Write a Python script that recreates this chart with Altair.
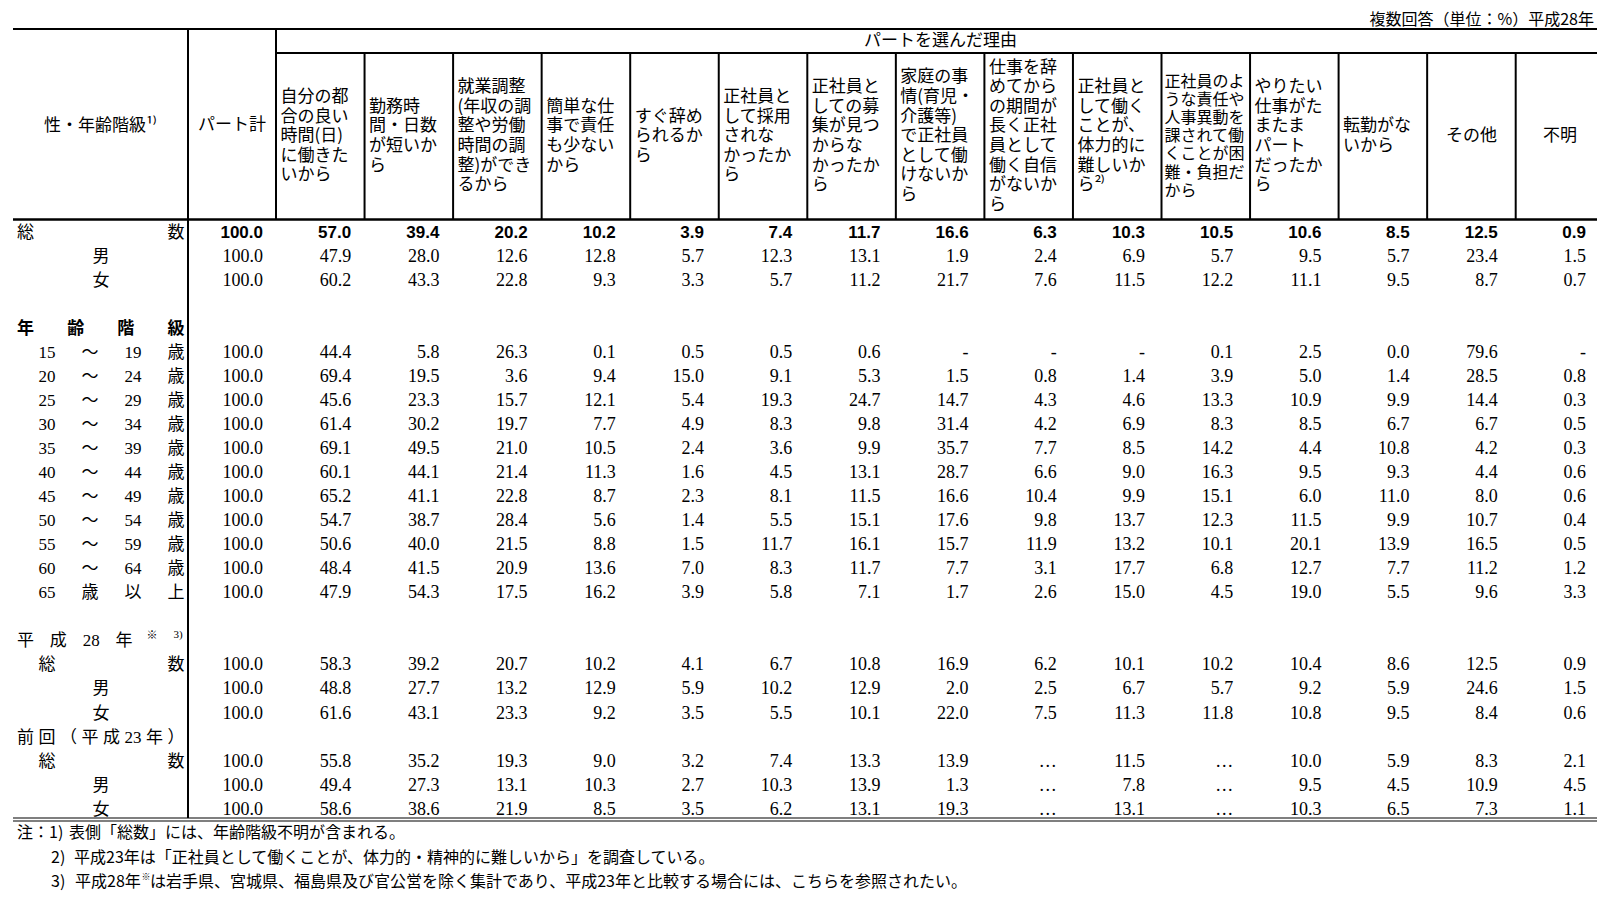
import altair as alt
import pandas as pd

# ---------------- data ----------------
NOTE_TOP = "複数回答（単位：%）平成28年"
GROUP_HEADER = "パートを選んだ理由"
STUB_HEADER = "性・年齢階級¹⁾"
TOTAL_HEADER = "パート計"
REASONS = [
    "自分の都\n合の良い\n時間(日)\nに働きた\nいから",
    "勤務時\n間・日数\nが短いか\nら",
    "就業調整\n(年収の調\n整や労働\n時間の調\n整)ができ\nるから",
    "簡単な仕\n事で責任\nも少ない\nから",
    "すぐ辞め\nられるか\nら",
    "正社員と\nして採用\nされな\nかったか\nら",
    "正社員と\nしての募\n集が見つ\nからな\nかったか\nら",
    "家庭の事\n情(育児・\n介護等)\nで正社員\nとして働\nけないか\nら",
    "仕事を辞\nめてから\nの期間が\n長く正社\n員として\n働く自信\nがないか\nら",
    "正社員と\nして働く\nことが、\n体力的に\n難しいか\nら²⁾",
    "正社員のよ\nうな責任や\n人事異動を\n課されて働\nくことが困\n難・負担だ\nから",
    "やりたい\n仕事がた\nまたま\nパート\nだったか\nら",
    "転勤がな\nいから",
    "その他",
    "不明",
]
SMALL_HEADER = 10          # index of the header drawn with a smaller font
CENTER_HEADERS = [13, 14]  # headers drawn centred

STUB_TOTAL = ["総", "数"]
SEX = ["男", "女"]
AGE_HEADING = ["年", "齢", "階", "級"]
AGE_GROUPS = [
    ["15", "～", "19", "歳"], ["20", "～", "24", "歳"], ["25", "～", "29", "歳"],
    ["30", "～", "34", "歳"], ["35", "～", "39", "歳"], ["40", "～", "44", "歳"],
    ["45", "～", "49", "歳"], ["50", "～", "54", "歳"], ["55", "～", "59", "歳"],
    ["60", "～", "64", "歳"], ["65", "歳", "以", "上"],
]
H28_HEADING = ["平", "成", "28", "年"]
H28_MARK = "※"
H28_NOTE_REF = "3)"
H23_HEADING = ["前", "回", "（", "平", "成", "23", "年", "）"]

TOTAL_VALUES = [100.0, 57.0, 39.4, 20.2, 10.2, 3.9, 7.4, 11.7, 16.6, 6.3, 10.3, 10.5, 10.6, 8.5, 12.5, 0.9]
MALE_VALUES = [100.0, 47.9, 28.0, 12.6, 12.8, 5.7, 12.3, 13.1, 1.9, 2.4, 6.9, 5.7, 9.5, 5.7, 23.4, 1.5]
FEMALE_VALUES = [100.0, 60.2, 43.3, 22.8, 9.3, 3.3, 5.7, 11.2, 21.7, 7.6, 11.5, 12.2, 11.1, 9.5, 8.7, 0.7]
AGE_VALUES = [
    [100.0, 44.4, 5.8, 26.3, 0.1, 0.5, 0.5, 0.6, "-", "-", "-", 0.1, 2.5, 0.0, 79.6, "-"],
    [100.0, 69.4, 19.5, 3.6, 9.4, 15.0, 9.1, 5.3, 1.5, 0.8, 1.4, 3.9, 5.0, 1.4, 28.5, 0.8],
    [100.0, 45.6, 23.3, 15.7, 12.1, 5.4, 19.3, 24.7, 14.7, 4.3, 4.6, 13.3, 10.9, 9.9, 14.4, 0.3],
    [100.0, 61.4, 30.2, 19.7, 7.7, 4.9, 8.3, 9.8, 31.4, 4.2, 6.9, 8.3, 8.5, 6.7, 6.7, 0.5],
    [100.0, 69.1, 49.5, 21.0, 10.5, 2.4, 3.6, 9.9, 35.7, 7.7, 8.5, 14.2, 4.4, 10.8, 4.2, 0.3],
    [100.0, 60.1, 44.1, 21.4, 11.3, 1.6, 4.5, 13.1, 28.7, 6.6, 9.0, 16.3, 9.5, 9.3, 4.4, 0.6],
    [100.0, 65.2, 41.1, 22.8, 8.7, 2.3, 8.1, 11.5, 16.6, 10.4, 9.9, 15.1, 6.0, 11.0, 8.0, 0.6],
    [100.0, 54.7, 38.7, 28.4, 5.6, 1.4, 5.5, 15.1, 17.6, 9.8, 13.7, 12.3, 11.5, 9.9, 10.7, 0.4],
    [100.0, 50.6, 40.0, 21.5, 8.8, 1.5, 11.7, 16.1, 15.7, 11.9, 13.2, 10.1, 20.1, 13.9, 16.5, 0.5],
    [100.0, 48.4, 41.5, 20.9, 13.6, 7.0, 8.3, 11.7, 7.7, 3.1, 17.7, 6.8, 12.7, 7.7, 11.2, 1.2],
    [100.0, 47.9, 54.3, 17.5, 16.2, 3.9, 5.8, 7.1, 1.7, 2.6, 15.0, 4.5, 19.0, 5.5, 9.6, 3.3],
]
H28_TOTAL = [100.0, 58.3, 39.2, 20.7, 10.2, 4.1, 6.7, 10.8, 16.9, 6.2, 10.1, 10.2, 10.4, 8.6, 12.5, 0.9]
H28_MALE = [100.0, 48.8, 27.7, 13.2, 12.9, 5.9, 10.2, 12.9, 2.0, 2.5, 6.7, 5.7, 9.2, 5.9, 24.6, 1.5]
H28_FEMALE = [100.0, 61.6, 43.1, 23.3, 9.2, 3.5, 5.5, 10.1, 22.0, 7.5, 11.3, 11.8, 10.8, 9.5, 8.4, 0.6]
H23_TOTAL = [100.0, 55.8, 35.2, 19.3, 9.0, 3.2, 7.4, 13.3, 13.9, "…", 11.5, "…", 10.0, 5.9, 8.3, 2.1]
H23_MALE = [100.0, 49.4, 27.3, 13.1, 10.3, 2.7, 10.3, 13.9, 1.3, "…", 7.8, "…", 9.5, 4.5, 10.9, 4.5]
H23_FEMALE = [100.0, 58.6, 38.6, 21.9, 8.5, 3.5, 6.2, 13.1, 19.3, "…", 13.1, "…", 10.3, 6.5, 7.3, 1.1]

NOTES = [
    ["注：1)", "表側「総数」には、年齢階級不明が含まれる。"],
    ["2)", "平成23年は「正社員として働くことが、体力的・精神的に難しいから」を調査している。"],
    ["3)", "平成28年", "※", "は岩手県、宮城県、福島県及び官公営を除く集計であり、平成23年と比較する場合には、こちらを参照されたい。"],
]

# ---------------- layout (page pixel coordinates) ----------------
W, H = 1589, 884
XS = alt.Scale(domain=[8, 8 + W], nice=False, zero=False)
YS = alt.Scale(domain=[8, 8 + H], nice=False, zero=False, reverse=True)

LEFT, RIGHT = 13, 1605
STUB_R = 188
COL_LEFT, COL_PITCH = 276.0, 88.55
TOP_Y, SUB_Y, HEAD_Y, BOT_Y = 29, 53, 219.5, 818
ROW_Y0, ROW_PITCH = 232.5, 24.05
NUM_X0, NUM_PITCH = 263.0, 88.2
SERIF = "Liberation Serif, Noto Sans CJK JP"
SANS = "Noto Sans CJK JP"
LH_BIG, LH_SMALL = 19.6, 18.2


def ry(r):
    return ROW_Y0 + r * ROW_PITCH


def fmt(v):
    return f"{v:.1f}" if isinstance(v, (int, float)) else v


def spread(pieces, a, b):
    n = len(pieces)
    return [(p, a + (b - a) * i / (n - 1)) for i, p in enumerate(pieces)]


def first_line_y(text, mid, lh):
    n = text.count("\n") + 1
    return mid - (n - 1) * lh / 2


def X():
    return alt.X("x:Q", scale=XS, axis=None)


def Y():
    return alt.Y("y:Q", scale=YS, axis=None)


# numbers
data_rows = [(0, TOTAL_VALUES, True), (1, MALE_VALUES, False), (2, FEMALE_VALUES, False)]
data_rows += [(5 + i, v, False) for i, v in enumerate(AGE_VALUES)]
data_rows += [(18, H28_TOTAL, False), (19, H28_MALE, False), (20, H28_FEMALE, False),
              (22, H23_TOTAL, False), (23, H23_MALE, False), (24, H23_FEMALE, False)]
num_reg, num_bold = [], []
for r, vals, bold in data_rows:
    for k, v in enumerate(vals):
        rec = {"x": NUM_X0 + k * NUM_PITCH, "y": ry(r), "t": fmt(v)}
        (num_bold if bold else num_reg).append(rec)

# stub labels
stub = []
stub += [{"x": x, "y": ry(0), "t": p} for p, x in [(STUB_TOTAL[0], 25.5), (STUB_TOTAL[1], 176)]]
for r in (1, 19, 23):
    stub.append({"x": 101, "y": ry(r), "t": SEX[0]})
for r in (2, 20, 24):
    stub.append({"x": 101, "y": ry(r), "t": SEX[1]})
for i, g in enumerate(AGE_GROUPS):
    stub += [{"x": x, "y": ry(5 + i), "t": p} for p, x in spread(g, 47, 176)]
stub += [{"x": x, "y": ry(17), "t": p} for p, x in spread(H28_HEADING, 25.5, 124)]
for r in (18, 22):
    stub += [{"x": x, "y": ry(r), "t": p} for p, x in [(STUB_TOTAL[0], 47), (STUB_TOTAL[1], 176)]]
stub += [{"x": x, "y": ry(21), "t": p} for p, x in spread(H23_HEADING, 25.5, 176)]
stub_bold = [{"x": x, "y": ry(4), "t": p} for p, x in spread(AGE_HEADING, 25.5, 176)]
sup_mark = [{"x": 152, "y": ry(17) - 5, "t": H28_MARK}]
sup_ref = [{"x": 178, "y": ry(17) - 6, "t": H28_NOTE_REF}]

# headers
head_mid = (SUB_Y + HEAD_Y) / 2
hdr_left, hdr_small, hdr_center = [], [], []
for i, h in enumerate(REASONS):
    left = COL_LEFT + i * COL_PITCH
    if i in CENTER_HEADERS:
        hdr_center.append({"x": left + COL_PITCH / 2, "y": head_mid, "t": h})
    elif i == SMALL_HEADER:
        hdr_small.append({"x": left + 3, "y": first_line_y(h, head_mid, LH_SMALL), "t": h})
    else:
        hdr_left.append({"x": left + 4.5, "y": first_line_y(h, head_mid, LH_BIG), "t": h})
hdr_center += [
    {"x": (LEFT + STUB_R) / 2, "y": 126, "t": STUB_HEADER},
    {"x": (STUB_R + COL_LEFT) / 2, "y": 125, "t": TOTAL_HEADER},
    {"x": (COL_LEFT + RIGHT) / 2, "y": 40.5, "t": GROUP_HEADER},
]

# notes
notes = [
    {"x": 17, "y": 833, "t": NOTES[0][0]}, {"x": 69, "y": 833, "t": NOTES[0][1]},
    {"x": 51, "y": 857.5, "t": NOTES[1][0]}, {"x": 74, "y": 857.5, "t": NOTES[1][1]},
    {"x": 51, "y": 882, "t": NOTES[2][0]}, {"x": 75, "y": 882, "t": NOTES[2][1]},
    {"x": 150, "y": 882, "t": NOTES[2][3]},
]
note_sup = [{"x": 141.5, "y": 877, "t": NOTES[2][2]}]
top_note = [{"x": 1594, "y": 19.5, "t": NOTE_TOP}]

# rules
rules = [
    {"x": LEFT, "x2": RIGHT, "y": TOP_Y, "y2": TOP_Y, "w": 2.2},
    {"x": COL_LEFT, "x2": RIGHT, "y": SUB_Y, "y2": SUB_Y, "w": 2},
    {"x": LEFT, "x2": RIGHT, "y": HEAD_Y, "y2": HEAD_Y, "w": 2.6},
    {"x": LEFT, "x2": RIGHT, "y": BOT_Y, "y2": BOT_Y, "w": 1.2},
    {"x": LEFT, "x2": RIGHT, "y": BOT_Y + 3, "y2": BOT_Y + 3, "w": 1.2},
    {"x": STUB_R, "x2": STUB_R, "y": TOP_Y, "y2": BOT_Y, "w": 2},
    {"x": COL_LEFT, "x2": COL_LEFT, "y": TOP_Y, "y2": HEAD_Y, "w": 2},
]
for i in range(1, len(REASONS)):
    x = COL_LEFT + i * COL_PITCH
    rules.append({"x": x, "x2": x, "y": SUB_Y, "y2": HEAD_Y, "w": 2})


def text_layer(recs, **kw):
    base = dict(color="#000", baseline="middle")
    base.update(kw)
    return alt.Chart(pd.DataFrame(recs)).mark_text(**base).encode(x=X(), y=Y(), text="t:N")


rule_layer = alt.Chart(pd.DataFrame(rules)).mark_rule(color="#000").encode(
    x=X(), x2="x2:Q", y=Y(), y2="y2:Q", strokeWidth=alt.StrokeWidth("w:Q", scale=None)
)

layers = [
    rule_layer,
    text_layer(num_reg, align="right", font="Liberation Serif", fontSize=18),
    text_layer(num_bold, align="right", font="Liberation Sans", fontSize=17, fontWeight="bold"),
    text_layer(stub, align="center", font=SERIF, fontSize=17),
    text_layer(stub_bold, align="center", font=SANS, fontSize=17, fontWeight="bold"),
    text_layer(sup_mark, align="center", font=SANS, fontSize=11),
    text_layer(sup_ref, align="center", font="Liberation Serif", fontSize=11),
    text_layer(hdr_left, align="left", font=SANS, fontSize=17, lineBreak="\n", lineHeight=LH_BIG),
    text_layer(hdr_small, align="left", font=SANS, fontSize=16, lineBreak="\n", lineHeight=LH_SMALL),
    text_layer(hdr_center, align="center", font=SANS, fontSize=17),
    text_layer(notes, align="left", font=SANS, fontSize=16),
    text_layer(note_sup, align="left", font=SANS, fontSize=9),
    text_layer(top_note, align="right", font=SANS, fontSize=16),
]

chart = alt.layer(*layers).properties(
    width=W, height=H, padding=0,
    autosize=alt.AutoSizeParams(type="none"),
    background="white",
).configure_view(stroke=None)

chart.save("out.html", embed_options={"renderer": "svg", "actions": False})
